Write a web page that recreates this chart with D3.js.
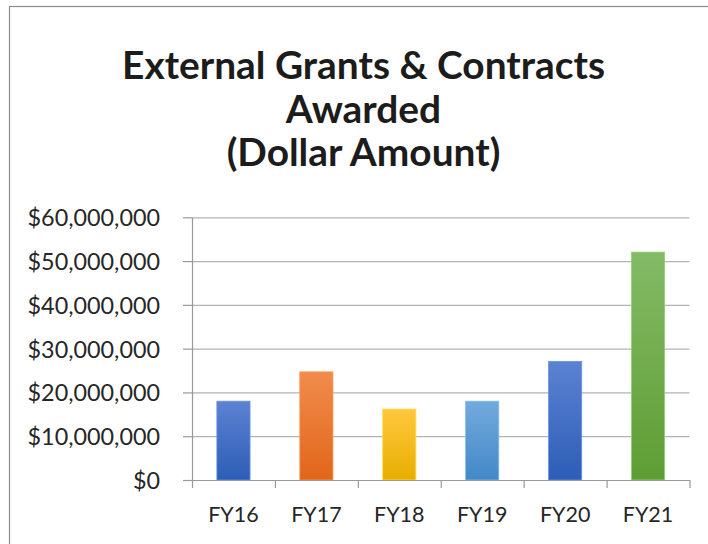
<!DOCTYPE html>
<html>
<head>
<meta charset="utf-8">
<script src="https://cdn.jsdelivr.net/npm/d3@7"></script>
<style>
  html, body { margin: 0; padding: 0; background: #fff; }
  svg { display: block; font-family: Lato, "Open Sans", sans-serif; }
</style>
</head>
<body>
<div id="chart"></div>
<script>
const categories = ['FY16', 'FY17', 'FY18', 'FY19', 'FY20', 'FY21'];
const amounts = [18000000, 24700000, 16200000, 18000000, 27100000, 52050000];
const barColors = [
  ['#5c82d2', '#2d5db6'],
  ['#f18b4c', '#e1661a'],
  ['#ffc83e', '#e7ae00'],
  ['#72aadd', '#4488c7'],
  ['#5c82d2', '#2d5db6'],
  ['#84ba66', '#5e9d34']
];
const yTicks = [0, 10000000, 20000000, 30000000, 40000000, 50000000, 60000000];
const titleLines = ['External Grants & Contracts', 'Awarded', '(Dollar Amount)'];

const W = 708, H = 544;
const margin = { top: 217.3, right: 18.5, bottom: 64, left: 192 };
const plotW = W - margin.left - margin.right;
const plotH = H - margin.top - margin.bottom;

const svg = d3.select('#chart').append('svg')
  .attr('width', W)
  .attr('height', H);

// frame of the chart area (runs past the right and bottom edges)
svg.append('rect')
  .attr('x', 9.5).attr('y', 6.5)
  .attr('width', W + 20).attr('height', H + 20)
  .attr('fill', 'none')
  .attr('stroke', '#8c8c8c')
  .attr('stroke-width', 1.2);

// title, fitted to the width seen in the picture
const title = svg.append('text')
  .attr('text-anchor', 'middle')
  .attr('font-weight', 700)
  .attr('fill', '#1c1c1c');
const baselines = [79, 122.5, 166];
titleLines.forEach((t, i) => {
  title.append('tspan').attr('x', 363.5).attr('y', baselines[i]).text(t);
});
title.attr('font-size', 33);
const firstLen = title.select('tspan').node().getComputedTextLength();
title.attr('font-size', 33 * 483 / firstLen);

const g = svg.append('g').attr('transform', `translate(${margin.left},${margin.top})`);

const y = d3.scaleLinear().domain([0, 60000000]).range([plotH, 0]);
const x = d3.scaleBand().domain(categories).range([0, plotW])
  .paddingInner(0.6).paddingOuter(0.3);
const xEdge = d3.scaleLinear().domain([0, categories.length]).range([0, plotW]);

// gridlines
g.append('g')
  .call(d3.axisLeft(y).tickValues(yTicks).tickSize(-plotW).tickFormat(''))
  .call(s => s.select('.domain').remove())
  .selectAll('line').attr('stroke', '#b3b3b3').attr('stroke-width', 1.2);

// gradients
const defs = svg.append('defs');
barColors.forEach((c, i) => {
  const lg = defs.append('linearGradient')
    .attr('id', 'grad' + i)
    .attr('x1', 0).attr('y1', 0).attr('x2', 0).attr('y2', 1);
  lg.append('stop').attr('offset', '0%').attr('stop-color', c[0]);
  lg.append('stop').attr('offset', '100%').attr('stop-color', c[1]);
});

// bars
g.selectAll('.bar')
  .data(amounts)
  .join('rect')
  .attr('class', 'bar')
  .attr('x', (d, i) => x(categories[i]))
  .attr('y', d => y(d))
  .attr('width', x.bandwidth())
  .attr('height', d => plotH - y(d))
  .attr('fill', (d, i) => `url(#grad${i})`)
  .attr('stroke', (d, i) => d3.color(barColors[i][0]).brighter(0.3))
  .attr('stroke-width', 0.8);

// y axis
const fmt = v => '$' + d3.format(',')(v);
const yAxis = g.append('g')
  .call(d3.axisLeft(y).tickValues(yTicks).tickSizeInner(9).tickSizeOuter(0)
    .tickPadding(23).tickFormat(fmt));
yAxis.select('.domain').attr('stroke', '#999').attr('stroke-width', 1.2);
yAxis.selectAll('line').attr('stroke', '#999').attr('stroke-width', 1.2);
yAxis.selectAll('text')
  .attr('fill', '#262626')
  .attr('font-family', 'Lato, sans-serif')
  .attr('font-size', 21)
  .attr('dy', '0.36em');
// fit label widths to the picture
const lbl = yAxis.selectAll('text').filter(d => d === 60000000).node();
const lw = lbl.getComputedTextLength();
yAxis.selectAll('text').attr('font-size', 21 * 132.5 / lw);

// x axis: line with ticks at category edges
const xAxisG = g.append('g').attr('transform', `translate(0,${plotH})`);
xAxisG.call(d3.axisBottom(xEdge).tickValues(d3.range(categories.length + 1))
  .tickSizeInner(8).tickSizeOuter(0).tickFormat(''));
xAxisG.select('.domain').attr('stroke', '#999').attr('stroke-width', 1.2);
xAxisG.selectAll('line').attr('stroke', '#999').attr('stroke-width', 1.2);

// category labels
const xLab = g.append('g').attr('transform', `translate(0,${plotH})`)
  .call(d3.axisBottom(x).tickSize(0).tickPadding(0));
xLab.select('.domain').remove();
xLab.selectAll('text')
  .attr('fill', '#262626')
  .attr('font-family', 'Lato, sans-serif')
  .attr('font-size', 21)
  .attr('dy', 0)
  .attr('y', 42.3);
const xl = xLab.select('text').node().getComputedTextLength();
xLab.selectAll('text').attr('font-size', 21 * 50.5 / xl);
</script>
</body>
</html>
